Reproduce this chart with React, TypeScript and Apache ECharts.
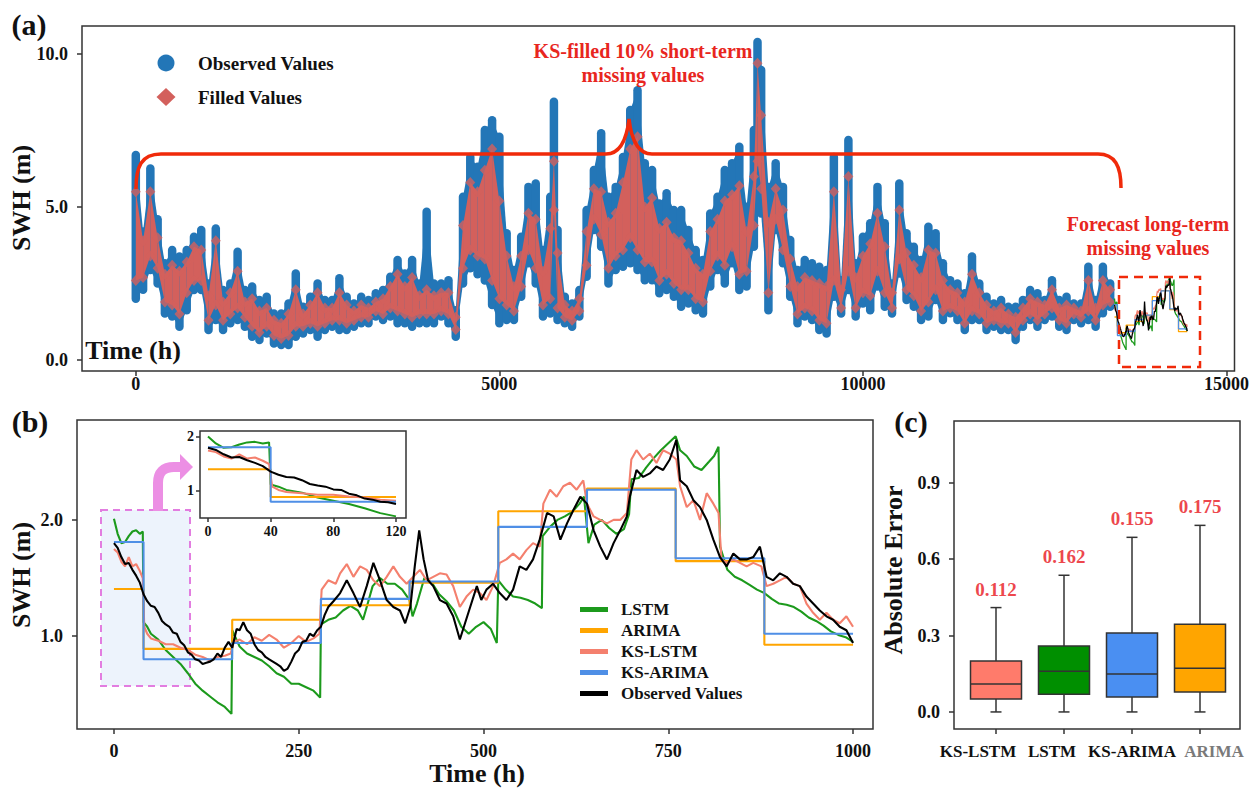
import React, { useEffect, useRef } from "react";
import * as echarts from "echarts";

const FF = '"Liberation Serif", "Times New Roman", Times, serif';

// ---------------- Panel (a): long SWH record ----------------
const A_TIME = [0, 100, 200, 300, 400, 500, 600, 700, 800, 900, 1000, 1100, 1200, 1300, 1400, 1500, 1600, 1700, 1800, 1900,
  2000, 2100, 2200, 2300, 2400, 2500, 2600, 2700, 2800, 2900, 3000, 3100, 3200, 3300, 3400, 3500, 3600, 3700, 3800, 3900,
  4000, 4100, 4200, 4300, 4400, 4500, 4600, 4700, 4800, 4900, 5000, 5100, 5200, 5300, 5400, 5500, 5600, 5700, 5750, 5800, 5900,
  6000, 6100, 6200, 6300, 6400, 6500, 6600, 6700, 6800, 6900, 7000, 7100, 7200, 7300, 7400, 7500, 7600, 7700, 7800, 7900,
  8000, 8100, 8200, 8300, 8400, 8500, 8550, 8600, 8700, 8800, 8900, 9000, 9100, 9200, 9300, 9400, 9500, 9600, 9700, 9800, 9900,
  10000, 10100, 10200, 10300, 10400, 10500, 10600, 10700, 10800, 10900, 11000, 11100, 11200, 11300, 11400, 11500, 11600, 11700, 11800, 11900,
  12000, 12100, 12200, 12300, 12400, 12500, 12600, 12700, 12800, 12900, 13000, 13100, 13200, 13300, 13400];
const A_HIGH = [6.7, 4.2, 6.26, 4.6, 3.16, 3.6, 3.38, 3.6, 4.03, 4.25, 2.5, 4.3, 2.29, 2.5, 3.54, 2.29, 2.4, 1.96, 2.07, 1.52,
  1.52, 1.85, 2.83, 1.74, 2.07, 2.5, 1.96, 1.96, 2.67, 2.07, 1.85, 2.07, 1.96, 2.18, 2.29, 2.72, 3.27, 2.83, 3.27, 2.5,
  4.85, 2.5, 2.5, 2.61, 1.63, 5.34, 6.64, 6.32, 7.52, 7.84, 7.3, 4.14, 2.94, 4.03, 5.66, 5.77, 3.6, 5.34, 8.44, 4.25, 2.07,
  1.85, 2.29, 4.9, 6.21, 7.41, 5.34, 5.66, 6.64, 8.17, 8.82, 6.43, 6.21, 5.12, 5.45, 4.9, 4.9, 4.25, 3.6, 3.27, 4.79,
  5.34, 6.21, 6.43, 6.97, 5.01, 7.52, 10.4, 9.48, 5.66, 6.43, 5.66, 3.92, 2.94, 3.27, 3.16, 3.05, 2.94, 6.64, 2.61, 7.19, 3.16,
  4.03, 4.47, 5.66, 4.47, 2.5, 5.77, 4.14, 3.7, 3.27, 4.36, 4.14, 3.16, 2.61, 2.5, 2.18, 3.38, 2.5, 2.07, 1.85, 1.96,
  1.74, 1.74, 1.96, 2.29, 2.18, 1.96, 2.61, 1.96, 2.07, 1.85, 1.85, 3.05, 1.96, 3.05, 2.5];
const A_LOW = [2.0, 2.3, 2.94, 2.5, 1.52, 1.42, 1.09, 1.63, 2.29, 2.29, 0.98, 1.31, 0.98, 1.2, 1.31, 1.09, 0.76, 0.65, 0.87, 0.54,
  0.49, 0.49, 0.76, 0.87, 0.98, 0.76, 0.98, 1.09, 0.98, 0.98, 1.09, 1.2, 1.2, 1.42, 1.31, 1.42, 1.2, 1.2, 1.09, 1.2,
  1.2, 1.2, 1.42, 1.2, 0.76, 2.5, 3.0, 2.8, 2.6, 1.8, 1.2, 1.31, 1.31, 2.07, 3.16, 2.5, 1.42, 1.52, 3.0, 1.31, 1.2,
  1.09, 1.42, 2.72, 4.25, 3.7, 2.5, 2.94, 3.05, 3.16, 2.94, 2.61, 2.61, 2.18, 2.29, 2.07, 1.74, 1.85, 1.63, 1.52, 2.4,
  2.94, 2.5, 3.16, 2.29, 2.4, 3.7, 5.0, 4.79, 1.63, 4.25, 3.16, 2.07, 1.2, 1.42, 1.31, 0.98, 0.87, 2.07, 1.52, 2.29, 1.42,
  1.85, 1.63, 2.4, 1.74, 1.52, 2.83, 1.96, 1.74, 1.31, 1.42, 1.96, 1.31, 1.53, 1.31, 0.98, 1.31, 1.31, 0.98, 1.09, 0.98,
  0.98, 0.65, 1.09, 1.31, 1.09, 1.31, 1.42, 1.09, 0.98, 1.31, 1.2, 1.31, 1.09, 1.53, 1.74];
const A_FILL_HI = [5.5, 3.9, 5.5, 4.0, 2.8, 3.1, 2.9, 3.2, 3.7, 3.6, 2.1, 3.9, 1.9, 2.2, 2.9, 1.9, 2.0, 1.6, 1.7, 1.3,
  1.2, 1.5, 2.3, 1.5, 1.8, 2.2, 1.7, 1.7, 2.2, 1.8, 1.6, 1.8, 1.7, 1.9, 2.0, 2.4, 2.8, 2.4, 2.7, 2.1,
  2.3, 2.1, 2.2, 2.2, 1.4, 4.4, 5.8, 5.5, 6.2, 6.9, 5.2, 3.4, 2.4, 3.4, 4.8, 4.6, 2.9, 4.3, 6.5, 3.5, 1.8,
  1.6, 2.0, 4.2, 5.6, 5.5, 4.5, 4.8, 5.8, 6.9, 7.3, 5.0, 5.3, 4.3, 4.5, 4.0, 3.9, 3.5, 3.0, 2.8, 4.2,
  4.6, 5.2, 5.4, 5.7, 4.2, 6.0, 9.7, 8.0, 4.5, 5.6, 4.9, 3.3, 2.4, 2.7, 2.6, 2.5, 2.4, 5.5, 2.3, 6.0, 2.7,
  3.4, 3.8, 4.8, 3.7, 2.2, 4.9, 3.5, 3.1, 2.7, 3.6, 3.5, 2.6, 2.3, 2.2, 1.9, 2.8, 2.2, 1.8, 1.6, 1.7,
  1.5, 1.4, 1.7, 2.0, 1.9, 1.8, 2.3, 1.7, 1.8, 1.7, 1.6, 2.6, 1.7, 2.6, 2.3];
const A_FILL_LO = [2.6, 2.7, 3.4, 3.0, 1.9, 1.8, 1.5, 2.2, 2.6, 2.6, 1.3, 1.8, 1.3, 1.5, 1.7, 1.4, 1.1, 0.9, 1.1, 0.8,
  0.7, 0.8, 1.1, 1.1, 1.2, 1.1, 1.2, 1.3, 1.3, 1.2, 1.3, 1.4, 1.4, 1.6, 1.5, 1.7, 1.6, 1.5, 1.4, 1.5,
  1.5, 1.5, 1.6, 1.5, 1.0, 3.0, 3.6, 3.4, 3.3, 2.6, 2.0, 1.8, 1.6, 2.4, 3.6, 3.0, 1.8, 2.0, 4.9, 1.7, 1.4,
  1.3, 1.6, 3.1, 4.6, 4.1, 3.0, 3.4, 3.6, 4.0, 3.6, 3.2, 3.2, 2.6, 2.8, 2.5, 2.3, 2.3, 2.0, 1.9, 2.9,
  3.4, 3.1, 3.7, 2.8, 2.9, 4.4, 6.5, 5.6, 2.2, 4.6, 3.6, 2.4, 1.5, 1.7, 1.6, 1.3, 1.2, 2.6, 1.7, 2.9, 1.7,
  2.2, 2.1, 2.9, 2.2, 1.7, 3.3, 2.3, 2.1, 1.6, 1.9, 2.3, 1.6, 1.7, 1.6, 1.2, 1.6, 1.5, 1.2, 1.3, 1.2,
  1.2, 0.9, 1.3, 1.5, 1.3, 1.5, 1.7, 1.3, 1.2, 1.5, 1.4, 1.6, 1.3, 1.8, 1.9];
const A_FORECAST_START = 13460;

// ---------------- Panel (b): 1000 h forecast ----------------
const LSTM: [number, number][] = [[0, 2.01], [5, 1.88], [10, 1.8], [15, 1.81], [20, 1.86], [25, 1.9], [30, 1.91], [35, 1.88], [39, 1.9],
  [40, 1.12], [45, 1.08], [50, 1.02], [60, 0.97], [70, 0.88], [80, 0.82], [90, 0.76], [100, 0.68], [110, 0.59], [120, 0.53],
  [130, 0.48], [140, 0.43], [150, 0.39], [159, 0.33], [160, 1.05], [170, 0.91], [180, 0.85], [190, 0.82], [200, 0.79], [210, 0.74],
  [220, 0.68], [230, 0.65], [240, 0.59], [250, 0.59], [260, 0.56], [270, 0.53], [279, 0.47], [280, 1.1], [290, 1.14], [300, 1.16],
  [310, 1.22], [320, 1.26], [330, 1.22], [337, 1.14], [342, 1.25], [350, 1.43], [360, 1.5], [370, 1.45], [380, 1.45], [390, 1.4],
  [400, 1.31], [404, 1.17], [410, 1.28], [420, 1.5], [430, 1.46], [440, 1.36], [450, 1.3], [460, 1.22], [470, 1.08], [480, 1.02],
  [490, 1.08], [500, 1.12], [510, 1.06], [518, 0.94], [520, 1.48], [530, 1.4], [540, 1.34], [550, 1.33], [560, 1.31], [570, 1.28],
  [579, 1.24], [580, 1.86], [590, 1.94], [600, 2.0], [610, 2.03], [620, 2.07], [630, 2.14], [636, 2.2], [642, 1.8], [650, 1.96],
  [660, 2.0], [670, 1.93], [680, 1.88], [690, 1.92], [697, 2.05], [700, 2.35], [710, 2.36], [720, 2.45], [730, 2.53], [740, 2.6],
  [750, 2.66], [760, 2.72], [766, 2.6], [775, 2.55], [785, 2.46], [795, 2.43], [805, 2.5], [812, 2.55], [818, 2.63], [820, 1.77],
  [830, 1.57], [840, 1.51], [850, 1.48], [860, 1.44], [870, 1.4], [880, 1.37], [890, 1.32], [900, 1.28], [910, 1.27], [920, 1.25],
  [930, 1.21], [940, 1.16], [950, 1.13], [960, 1.09], [970, 1.04], [980, 1.01], [990, 0.99], [1000, 0.95]];
const KS_LSTM: [number, number][] = [[0, 1.75], [5, 1.72], [10, 1.64], [15, 1.6], [20, 1.68], [25, 1.6], [30, 1.62], [35, 1.56], [39, 1.5],
  [41, 1.08], [45, 1.02], [50, 0.98], [60, 0.96], [70, 0.93], [80, 0.93], [90, 0.9], [100, 0.88], [110, 0.84], [120, 0.82],
  [130, 0.79], [140, 0.82], [150, 0.83], [158, 0.85], [162, 0.95], [170, 0.97], [180, 0.93], [190, 0.99], [200, 0.96], [210, 1.01],
  [220, 0.97], [230, 0.9], [240, 0.94], [250, 1.0], [260, 0.95], [270, 0.98], [278, 1.02], [281, 1.4], [290, 1.48], [300, 1.45],
  [306, 1.54], [315, 1.62], [324, 1.51], [333, 1.6], [342, 1.57], [351, 1.48], [360, 1.43], [369, 1.51], [378, 1.6], [387, 1.51],
  [396, 1.45], [405, 1.51], [414, 1.57], [423, 1.48], [432, 1.51], [441, 1.54], [450, 1.53], [459, 1.43], [468, 1.25], [477, 1.34],
  [486, 1.4], [495, 1.37], [504, 1.31], [513, 1.43], [522, 1.63], [531, 1.66], [540, 1.71], [549, 1.66], [558, 1.74], [567, 1.8],
  [576, 1.77], [581, 2.14], [590, 2.26], [599, 2.2], [608, 2.29], [617, 2.32], [626, 2.26], [635, 2.34], [640, 2.14], [649, 2.03],
  [658, 2.0], [667, 1.97], [676, 2.0], [685, 2.0], [694, 2.06], [700, 2.52], [707, 2.6], [716, 2.52], [725, 2.57], [734, 2.49],
  [743, 2.6], [752, 2.57], [761, 2.52], [766, 2.29], [775, 2.11], [784, 2.17], [793, 2.0], [802, 2.23], [811, 2.14], [818, 2.06],
  [822, 1.66], [829, 1.63], [838, 1.66], [847, 1.63], [856, 1.6], [865, 1.63], [876, 1.6], [883, 1.43], [892, 1.45], [901, 1.48],
  [910, 1.51], [919, 1.45], [928, 1.43], [937, 1.28], [946, 1.2], [955, 1.14], [964, 1.2], [973, 1.14], [982, 1.11], [991, 1.17], [1000, 1.08]];
const OBSERVED: [number, number][] = [[0, 1.8], [5, 1.76], [10, 1.68], [15, 1.62], [20, 1.63], [25, 1.57], [30, 1.52], [35, 1.46], [40, 1.36],
  [45, 1.3], [50, 1.26], [55, 1.25], [60, 1.2], [65, 1.13], [70, 1.1], [75, 1.08], [80, 1.03], [85, 1.02], [90, 0.95], [95, 0.92],
  [100, 0.86], [105, 0.84], [110, 0.8], [115, 0.79], [120, 0.76], [125, 0.77], [130, 0.78], [135, 0.8], [140, 0.85], [145, 0.82],
  [150, 0.9], [155, 0.95], [160, 0.9], [166, 1.06], [170, 1.05], [175, 1.12], [180, 1.05], [185, 1.02], [190, 0.93], [195, 0.88],
  [200, 0.86], [205, 0.82], [210, 0.8], [215, 0.78], [220, 0.76], [225, 0.74], [230, 0.7], [235, 0.72], [240, 0.78], [245, 0.85],
  [250, 0.88], [255, 0.95], [260, 0.96], [265, 1.02], [270, 1.0], [275, 1.05], [280, 1.08], [285, 1.18], [290, 1.25], [297, 1.3],
  [306, 1.37], [315, 1.48], [324, 1.37], [333, 1.25], [342, 1.43], [351, 1.63], [360, 1.48], [369, 1.31], [378, 1.25], [387, 1.22],
  [394, 1.11], [401, 1.25], [407, 1.6], [413, 1.91], [419, 1.66], [425, 1.48], [432, 1.43], [441, 1.31], [450, 1.28], [459, 1.17],
  [468, 0.97], [475, 1.11], [482, 1.25], [491, 1.43], [497, 1.31], [504, 1.4], [513, 1.45], [522, 1.37], [531, 1.31], [540, 1.4],
  [549, 1.6], [558, 1.57], [567, 1.66], [576, 1.83], [586, 2.06], [595, 2.03], [604, 1.83], [613, 1.97], [622, 2.09], [631, 2.2],
  [640, 2.14], [649, 1.91], [658, 1.77], [667, 1.66], [671, 1.72], [676, 1.8], [685, 1.91], [694, 2.03], [698, 2.2], [707, 2.43],
  [716, 2.37], [725, 2.4], [734, 2.46], [743, 2.43], [752, 2.52], [761, 2.69], [766, 2.34], [775, 2.29], [784, 2.17], [793, 2.11],
  [802, 2.0], [811, 1.83], [820, 1.68], [829, 1.6], [838, 1.71], [847, 1.66], [856, 1.66], [865, 1.68], [874, 1.77], [883, 1.51],
  [892, 1.48], [901, 1.54], [910, 1.51], [919, 1.45], [928, 1.43], [937, 1.34], [946, 1.28], [955, 1.22], [964, 1.17], [973, 1.14],
  [982, 1.08], [991, 1.05], [1000, 0.94]];
const STEP_BREAKS = [0, 40, 160, 280, 400, 520, 640, 760, 880, 1000];
const ARIMA_LEVELS = [1.405, 0.89, 1.14, 1.265, 1.46, 2.075, 2.27, 1.645, 0.925];
const KS_ARIMA_LEVELS = [1.81, 0.8, 0.94, 1.32, 1.47, 1.94, 2.26, 1.67, 1.02];

const B_NAMES = ["LSTM", "ARIMA", "KS-LSTM", "KS-ARIMA", "Observed Values"];
const B_COLORS = ["#1c9a1c", "#FFA500", "#F4806E", "#4F8FE6", "#000000"];

// ---------------- Panel (c): absolute error boxes ----------------
const C_MODELS = ["KS-LSTM", "LSTM", "KS-ARIMA", "ARIMA"];
const C_MIN = [0, 0, 0, 0];
const C_Q1 = [0.051, 0.07, 0.059, 0.078];
const C_MEDIAN = [0.11, 0.16, 0.149, 0.172];
const C_Q3 = [0.2, 0.259, 0.31, 0.345];
const C_MAX = [0.41, 0.537, 0.686, 0.733];
const C_MEAN_LABELS = ["0.112", "0.162", "0.155", "0.175"];
const C_COLORS = ["#FF7B6B", "#008F00", "#4A8FF2", "#FFA500"];

echarts.graphic.registerShape(
  "bracketA",
  echarts.graphic.extendPath(
    "M136 189 C136 167 141 154 161 154 L606 154 Q625 154 629 119 Q633 154 652 154 L1098 154 C1115 154 1121 166 1121 188",
    {}
  )
);
echarts.graphic.registerShape(
  "arrowStem",
  echarts.graphic.extendPath("M158 511 L158 483 Q158 467 174 467 L182 467", {})
);

const stepData = (levels: number[]): [number, number][] => {
  const out: [number, number][] = levels.map((lv, i) => [STEP_BREAKS[i], lv]);
  out.push([STEP_BREAKS[STEP_BREAKS.length - 1], levels[levels.length - 1]]);
  return out;
};

const clipTo = (pts: [number, number][], tmax: number): [number, number][] => {
  const out = pts.filter((p) => p[0] <= tmax);
  if (out[out.length - 1][0] < tmax) out.push([tmax, out[out.length - 1][1]]);
  return out;
};

function valueAxis(gridIndex: number, min: number, max: number, ticks: number[], fmt: (v: number) => string,
  fontSize: number, margin: number, tickLen: number, extra: any = {}) {
  return {
    type: "value",
    gridIndex,
    min,
    max,
    axisLine: { show: false, onZero: false },
    axisTick: { show: true, customValues: ticks, length: tickLen, lineStyle: { color: "#333", width: 1.5 } },
    axisLabel: { customValues: ticks, formatter: fmt, margin, fontFamily: FF, fontWeight: "bold", fontSize, color: "#111" },
    splitLine: { show: false },
    ...extra,
  };
}

const BLUE = "#2376B7";
const RED_PT = "#D3605C";

// band renderer: range of this bin joined to the next bin's range, with round dot caps
const bandRenderer = (hi: number[], lo: number[], color: string, capWidth: number, opacity: number) =>
  (params: any, api: any) => {
    const i = params.dataIndex;
    const j = Math.min(i + 1, A_TIME.length - 1);
    const h0 = api.coord([A_TIME[i], hi[i]]);
    const l0 = api.coord([A_TIME[i], lo[i]]);
    const h1 = api.coord([A_TIME[j], hi[j]]);
    const l1 = api.coord([A_TIME[j], lo[j]]);
    const children: any[] = [];
    if (j !== i) {
      children.push({
        type: "polygon",
        shape: { points: [[h0[0], h0[1]], [h1[0], h1[1]], [l1[0], l1[1]], [l0[0], l0[1]]] },
        style: { fill: color, opacity },
      });
    }
    if (capWidth > 0) {
      children.push({
        type: "line", shape: { x1: h0[0], y1: h0[1], x2: l0[0], y2: l0[1] },
        style: { stroke: color, lineWidth: capWidth, lineCap: "round", opacity },
      });
    }
    return { type: "group", children };
  };

function buildOption() {
  const bData: [number, number][][] = [LSTM, stepData(ARIMA_LEVELS), KS_LSTM, stepData(KS_ARIMA_LEVELS), OBSERVED];
  const bStep: any[] = [false, "end", false, "end", false];

  const series: any[] = [];

  bData.forEach((d, i) => {
    series.push({
      name: B_NAMES[i], type: "line", xAxisIndex: 1, yAxisIndex: 1, data: d, step: bStep[i],
      showSymbol: false, symbol: "none", lineStyle: { color: B_COLORS[i], width: 2.1 }, itemStyle: { color: B_COLORS[i] },
      z: 3 + i,
    });
  });
  bData.forEach((d, i) => {
    series.push({
      name: "inset " + B_NAMES[i], type: "line", xAxisIndex: 2, yAxisIndex: 2, data: clipTo(d, 120), step: bStep[i],
      showSymbol: false, symbol: "none", lineStyle: { color: B_COLORS[i], width: 2 }, z: 3 + i,
    });
  });
  series.push({
    name: "SWH observed", type: "custom", xAxisIndex: 0, yAxisIndex: 0,
    data: A_TIME.map((t, i) => [t, A_HIGH[i], A_LOW[i]]),
    encode: { x: 0, y: [1, 2] },
    renderItem: bandRenderer(A_HIGH, A_LOW, BLUE, 8.5, 1),
    z: 2,
  });
  series.push({
    name: "SWH filled band", type: "custom", xAxisIndex: 0, yAxisIndex: 0,
    data: A_TIME.map((t, i) => [t, A_FILL_HI[i], A_FILL_LO[i]]),
    encode: { x: 0, y: [1, 2] },
    renderItem: bandRenderer(A_FILL_HI, A_FILL_LO, RED_PT, 0, 1),
    z: 3,
  });
  const filled: [number, number][] = [];
  A_TIME.forEach((t, i) => { filled.push([t, A_FILL_HI[i]]); filled.push([t, A_FILL_LO[i]]); });
  series.push({
    name: "SWH filled", type: "scatter", xAxisIndex: 0, yAxisIndex: 0, data: filled,
    symbol: "diamond", symbolSize: [10, 11], itemStyle: { color: RED_PT }, z: 3,
  });
  bData.forEach((d, i) => {
    series.push({
      name: "forecast " + B_NAMES[i], type: "line", xAxisIndex: 0, yAxisIndex: 0,
      data: d.map((p) => [p[0] + A_FORECAST_START, p[1]]), step: bStep[i],
      showSymbol: false, symbol: "none", lineStyle: { color: B_COLORS[i], width: 1.3 }, z: 4 + i,
    });
  });
  series.push({
    name: "Absolute Error", type: "custom", xAxisIndex: 3, yAxisIndex: 3,
    data: C_MODELS.map((_, i) => [i, C_MIN[i], C_Q1[i], C_MEDIAN[i], C_Q3[i], C_MAX[i]]),
    encode: { x: 0, y: [1, 2, 3, 4, 5] },
    renderItem: (params: any, api: any) => {
      const i = api.value(0);
      const pMin = api.coord([i, api.value(1)]);
      const pQ1 = api.coord([i, api.value(2)]);
      const pMed = api.coord([i, api.value(3)]);
      const pQ3 = api.coord([i, api.value(4)]);
      const pMax = api.coord([i, api.value(5)]);
      const x = pMin[0];
      const half = 25.5;
      const cap = 5.5;
      const ls = { stroke: "#333", lineWidth: 1.5 };
      return {
        type: "group",
        children: [
          { type: "line", shape: { x1: x, y1: pMax[1], x2: x, y2: pQ3[1] }, style: ls },
          { type: "line", shape: { x1: x, y1: pQ1[1], x2: x, y2: pMin[1] }, style: ls },
          { type: "line", shape: { x1: x - cap, y1: pMax[1], x2: x + cap, y2: pMax[1] }, style: ls },
          { type: "line", shape: { x1: x - cap, y1: pMin[1], x2: x + cap, y2: pMin[1] }, style: ls },
          {
            type: "rect", shape: { x: x - half, y: pQ3[1], width: 2 * half, height: pQ1[1] - pQ3[1] },
            style: { fill: C_COLORS[params.dataIndex], stroke: "#333", lineWidth: 1.5 },
          },
          { type: "line", shape: { x1: x - half, y1: pMed[1], x2: x + half, y2: pMed[1] }, style: ls },
        ],
      };
    },
  });
  series.push({
    name: "mean labels", type: "scatter", xAxisIndex: 3, yAxisIndex: 3,
    data: C_MAX.map((v, i) => [i, v]), symbolSize: 0,
    label: {
      show: true, position: "top", distance: 9, formatter: (p: any) => C_MEAN_LABELS[p.dataIndex],
      color: "#E8141C", fontFamily: FF, fontWeight: "bold", fontSize: 19,
    },
    silent: true,
  });

  const frame = { show: true, borderColor: "#333", borderWidth: 1.5, backgroundColor: "transparent" };
  const red = "#F02A0A";
  const redText = "#E8261E";
  const pink = "#EC8FE4";

  const txt = (text: string, x: number, y: number, size: number, opts: any = {}) => ({
    type: "text", x, y, z: 20, rotation: opts.rotation || 0,
    style: {
      text, fill: opts.color || "#111", font: `bold ${size}px ${FF}`,
      textAlign: opts.align || "center", textVerticalAlign: "middle",
    },
  });

  const labelStyle = (name: string) => {
    if (name === "KS-LSTM") return `{l36|${name}}`;
    if (name === "LSTM") return `{l24|${name}}`;
    if (name === "ARIMA") return `{r28|${name}}`;
    return `{n|${name}}`;
  };
  const richBase = { fontFamily: FF, fontWeight: "bold", fontSize: 17, color: "#111" };

  return {
    animation: false,
    backgroundColor: "#fff",
    textStyle: { fontFamily: FF },
    grid: [
      { left: 82, top: 26, width: 1160, height: 345, ...frame },
      { left: 77, top: 420, width: 796, height: 309, ...frame },
      { left: 200, top: 431, width: 206, height: 87, ...frame, backgroundColor: "#fff", z: 3 },
      { left: 962, top: 421, width: 272, height: 308, show: false },
    ],
    xAxis: [
      valueAxis(0, -740, 15110, [0, 5000, 10000, 15000], (v) => String(v), 18, 4, 5),
      valueAxis(1, -50, 1027, [0, 250, 500, 750, 1000], (v) => String(v), 18, 13, 5),
      valueAxis(2, -5.1, 126.4, [0, 40, 80, 120], (v) => String(v), 14, 6, 4, { z: 4 }),
      {
        type: "category", gridIndex: 3, data: C_MODELS,
        axisLine: { show: false, onZero: false },
        axisTick: { show: true, alignWithLabel: true, length: 5, lineStyle: { color: "#333", width: 1.5 } },
        axisLabel: {
          margin: 14, interval: 0, formatter: (v: string) => labelStyle(v),
          rich: {
            n: { ...richBase },
            l36: { ...richBase, padding: [0, 36, 0, 0] },
            l24: { ...richBase, padding: [0, 24, 0, 0] },
            r28: { ...richBase, color: "#7a7a7a", padding: [0, 0, 0, 28] },
          },
        },
        splitLine: { show: false },
      },
    ],
    yAxis: [
      valueAxis(0, -0.36, 10.92, [0, 5, 10], (v) => v.toFixed(1), 18, 14, 5),
      valueAxis(1, 0.2, 2.86, [1, 2], (v) => v.toFixed(1), 18, 14, 5),
      valueAxis(2, 0.5, 2.111, [1, 2], (v) => String(v), 14, 6, 4, { z: 4 }),
      valueAxis(3, -0.067, 1.143, [0, 0.3, 0.6, 0.9], (v) => v.toFixed(1), 18, 14, 5, { offset: 8 }),
    ],
    legend: {
      data: B_NAMES, orient: "vertical", left: 575, top: 596, itemWidth: 28, itemHeight: 5, itemGap: 4,
      icon: "rect", selectedMode: false,
      textStyle: { fontFamily: FF, fontWeight: "bold", fontSize: 17, color: "#111", padding: [0, 0, 0, 8] },
    },
    series,
    graphic: [
      {
        type: "rect", z: 1, shape: { x: 101, y: 510, width: 89, height: 176 },
        style: { fill: "#EDF3FC", stroke: "#E27DE0", lineWidth: 2, lineDash: [7, 5] },
      },
      { type: "arrowStem", z: 20, style: { stroke: pink, lineWidth: 10, fill: "none" } },
      { type: "polygon", z: 20, shape: { points: [[180, 454], [193, 467], [180, 480]] }, style: { fill: pink } },
      { type: "bracketA", z: 20, style: { stroke: red, lineWidth: 3.5, fill: "none" } },
      {
        type: "rect", z: 20, shape: { x: 1119, y: 277, width: 81, height: 90 },
        style: { fill: "none", stroke: red, lineWidth: 2.5, lineDash: [9, 6] },
      },
      txt("KS-filled 10% short-term", 643, 51, 20, { color: redText }),
      txt("missing values", 643, 75, 20, { color: redText }),
      txt("Forecast long-term", 1148, 224, 20, { color: redText }),
      txt("missing values", 1148, 248, 20, { color: redText }),
      { type: "circle", z: 20, shape: { cx: 166, cy: 63, r: 8.5 }, style: { fill: BLUE } },
      { type: "polygon", z: 20, shape: { points: [[166, 88], [175.5, 97], [166, 106], [156.5, 97]] }, style: { fill: RED_PT } },
      txt("Observed Values", 198, 63, 19, { align: "left" }),
      txt("Filled Values", 198, 97, 19, { align: "left" }),
      txt("(a)", 29, 24, 30),
      txt("(b)", 30, 421, 30),
      txt("(c)", 911, 421, 30),
      txt("SWH (m)", 21, 198, 26, { rotation: Math.PI / 2 }),
      txt("Time (h)", 133, 350, 26),
      txt("SWH (m)", 21, 575, 26, { rotation: Math.PI / 2 }),
      txt("Time (h)", 477, 773, 26),
      txt("Absolute Error", 893, 570, 26, { rotation: Math.PI / 2 }),
      {
        type: "rect", z: 20, shape: { x: 954, y: 421, width: 286, height: 308 },
        style: { fill: "none", stroke: "#333", lineWidth: 1.5 },
      },
    ],
  };
}

export default function App() {
  const ref = useRef<HTMLDivElement>(null);
  useEffect(() => {
    if (!ref.current) return;
    const chart = echarts.init(ref.current, null, { renderer: "svg" });
    chart.setOption(buildOption() as any);
    return () => chart.dispose();
  }, []);
  return (
    <div
      ref={ref}
      style={{ position: "fixed", left: 0, top: 0, width: 1252, height: 789, background: "#fff" }}
    />
  );
}
